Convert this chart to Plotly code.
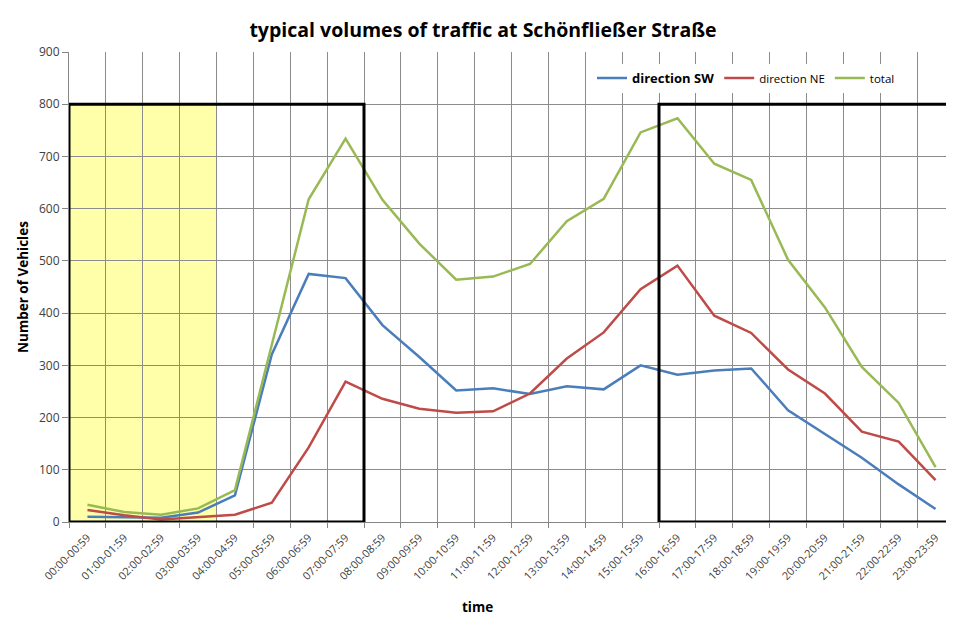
import plotly.graph_objects as go

categories = ["00:00-00:59", "01:00-01:59", "02:00-02:59", "03:00-03:59", "04:00-04:59",
              "05:00-05:59", "06:00-06:59", "07:00-07:59", "08:00-08:59", "09:00-09:59",
              "10:00-10:59", "11:00-11:59", "12:00-12:59", "13:00-13:59", "14:00-14:59",
              "15:00-15:59", "16:00-16:59", "17:00-17:59", "18:00-18:59", "19:00-19:59",
              "20:00-20:59", "21:00-21:59", "22:00-22:59", "23:00-23:59"]

direction_sw = [10, 9, 8, 18, 51, 321, 475, 467, 377, 316, 252, 256, 245, 260, 254, 300,
                282, 290, 294, 214, 168, 123, 72, 25]
direction_ne = [23, 13, 5, 9, 14, 37, 143, 269, 236, 217, 209, 212, 246, 313, 363, 446,
                491, 395, 362, 292, 246, 173, 154, 80]
total = [33, 19, 14, 26, 61, 338, 618, 734, 617, 533, 464, 470, 494, 576, 619, 746,
         773, 686, 655, 502, 411, 297, 228, 105]

y_ticks = [0, 100, 200, 300, 400, 500, 600, 700, 800, 900]

night_span = (-0.5, 3.5)
morning_box = (-0.5, 7.5)
evening_box = (15.5, 23.5)
box_top = 800

FONT = "Open Sans, Liberation Sans, sans-serif"

# page body has an 8px margin, so the figure is sized/offset to compensate
W, H = 946, 608
L, T = 61, 44
PLOT_H = 470

fig = go.Figure()
fig.add_trace(go.Scatter(x=categories, y=direction_sw, mode="lines",
                         name="<span style='font-size:13px'><b>direction SW</b></span>",
                         line=dict(color="#4A7EBB", width=2.5)))
fig.add_trace(go.Scatter(x=categories, y=direction_ne, mode="lines",
                         name="direction NE",
                         line=dict(color="#BE4B48", width=2.5)))
fig.add_trace(go.Scatter(x=categories, y=total, mode="lines",
                         name="total",
                         line=dict(color="#98B954", width=2.5)))

fig.add_shape(type="rect", xref="x", yref="y", x0=night_span[0], x1=night_span[1],
              y0=0, y1=box_top, fillcolor="#FFFFAA", line=dict(width=0), layer="below")
for bx in (morning_box, evening_box):
    fig.add_shape(type="rect", xref="x", yref="y", x0=bx[0], x1=bx[1], y0=0, y1=box_top,
                  line=dict(color="black", width=3), fillcolor="rgba(0,0,0,0)", layer="above")

fig.add_annotation(text="<b>time</b>", xref="paper", yref="paper", x=(477 - 69) / 885,
                   y=-(607 - 522) / 470, showarrow=False, yanchor="middle",
                   font=dict(family=FONT, size=13.5, color="black"))

fig.update_layout(
    width=W, height=H,
    margin=dict(l=L, r=0, t=T, b=H - T - PLOT_H),
    paper_bgcolor="white", plot_bgcolor="white",
    title=dict(text="<b>typical volumes of traffic at Schönfließer Straße</b>",
               x=475 / W, xanchor="center", y=1 - 22 / H, yanchor="middle",
               font=dict(family=FONT, size=19.5, color="black")),
    showlegend=True,
    legend=dict(orientation="h", x=(592 - 69) / 885, xanchor="left",
                y=(522 - 78) / 470, yanchor="middle", bgcolor="white",
                font=dict(family=FONT, size=11.5, color="black"),
                itemwidth=30, tracegroupgap=0),
    xaxis=dict(type="category", tickson="boundaries", ticks="outside", ticklen=5,
               tickcolor="#868686", showgrid=True, gridcolor="#8C8C8C", gridwidth=1,
               showline=True, linecolor="#868686", linewidth=1, tickangle=-45,
               tickfont=dict(family=FONT, size=11, color="#404040"),
               ticklabelstandoff=4,
               range=[-0.5, 23.5], automargin=False),
    yaxis=dict(range=[0, 900], tickvals=y_ticks, ticks="outside", ticklen=6,
               tickcolor="#868686", showgrid=True, gridcolor="#8C8C8C", gridwidth=1,
               showline=True, linecolor="#868686", zeroline=False, automargin=False,
               tickfont=dict(family=FONT, size=12, color="#404040"),
               title=dict(text="<b>Number of Vehicles</b>", standoff=7,
                          font=dict(family=FONT, size=13.5, color="black"))),
)

fig.write_html("out.html")
